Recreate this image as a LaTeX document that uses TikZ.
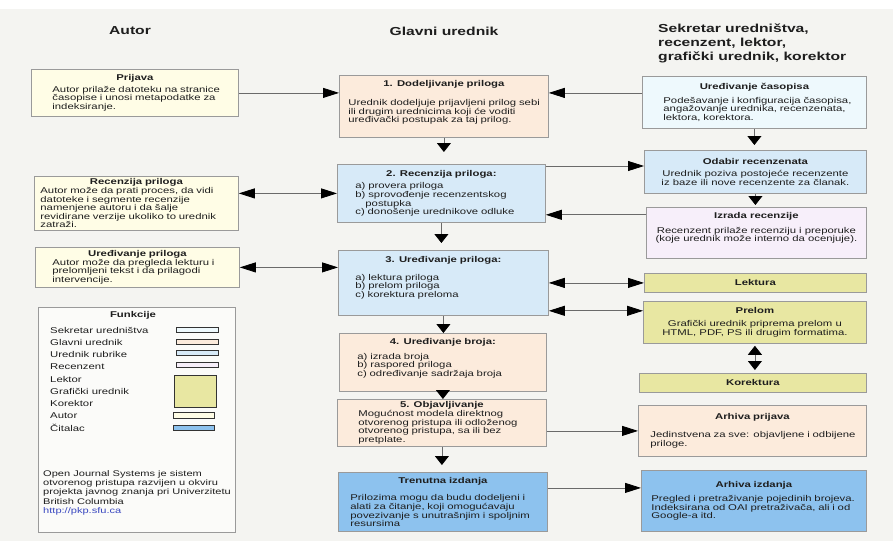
\documentclass[tikz,border=0pt]{standalone}
\usepackage{fontspec}
\setmainfont{Liberation Sans}[FakeStretch=1.35]
\usepackage{xcolor}
\usetikzlibrary{arrows.meta}

\definecolor{bgc}{HTML}{F4F4F1}
\definecolor{autorc}{HTML}{FFFDE6}
\definecolor{glavnic}{HTML}{FCEBDC}
\definecolor{sekrc}{HTML}{EEF9FD}
\definecolor{rubrikac}{HTML}{D7EAF8}
\definecolor{recc}{HTML}{F7EFFA}
\definecolor{lektc}{HTML}{E8E7A2}
\definecolor{citc}{HTML}{8DC2EE}
\definecolor{boxline}{HTML}{9A9A9A}
\definecolor{linec}{HTML}{6A6A6A}
\definecolor{txtc}{HTML}{1E1E1E}
\definecolor{linkc}{HTML}{3A48C0}

\hyphenpenalty=10000
\newcommand\bodyfont{\fontsize{8.4}{8.6}\selectfont}
\newcommand\headfont{\fontsize{11.6}{14}\selectfont\bfseries}
% title centred over the box, body indented by #3
\newcommand\cardtext[4][0pt]{{\centering\bfseries #2\par}\vspace{#1}%
    \hspace*{#3pt}\parbox[t]{\dimexpr\linewidth-#3pt\relax}{#4}}

\begin{document}
\begin{tikzpicture}[x=1pt,y=-1pt, text=txtc,
    card/.style={draw=boxline, line width=0.8pt, anchor=north west, inner sep=0pt, font=\bodyfont},
    ccard/.style={card, align=center},
    arr/.style={draw=linec, line width=0.8pt, -{Triangle[length=16pt,width=10pt,color=black]}},
    darr/.style={draw=linec, line width=0.8pt, {Triangle[length=16pt,width=10pt,color=black]}-{Triangle[length=16pt,width=10pt,color=black]}},
    varr/.style={draw=linec, line width=0.8pt, -{Triangle[length=9pt,width=14pt,color=black]}},
    dvarr/.style={draw=linec, line width=0.8pt, {Triangle[length=9pt,width=14pt,color=black]}-{Triangle[length=9pt,width=14pt,color=black]}},
    legtext/.style={anchor=west, inner sep=0pt, font=\bodyfont},
    swatch/.style={draw=black!80, line width=0.8pt}]

    \useasboundingbox[fill=white] (0,0) rectangle (893,541);
    \fill[bgc] (0,9) rectangle (893,541);

    % column headings
    \node[font=\headfont] (hautor) at (130,31) {Autor};
    \node[font=\headfont] (hglavni) at (444,31) {Glavni urednik};
    \node[font=\headfont, anchor=west, align=left, inner sep=0pt] (hsekr) at (658,43) {Sekretar uredništva,\\ recenzent, lektor,\\ grafički urednik, korektor};

    % Autor
    \node[card, fill=autorc, minimum width=207, minimum height=47, text width=203] (prijava) at (31,69)
        {\cardtext[3pt]{Prijava}{19}{Autor prilaže datoteku na stranice\\ časopise i unosi metapodatke za\\ indeksiranje.}};
    \node[card, fill=autorc, minimum width=204, minimum height=54, text width=200] (recprilog) at (34,176)
        {\cardtext{Recenzija priloga}{4}{Autor može da prati proces, da vidi\\ datoteke i segmente recenzije\\ namenjene autoru i da šalje\\ revidirane verzije ukoliko to urednik\\ zatraži.}};
    \node[card, fill=autorc, minimum width=204, minimum height=40, text width=200] (uredprilog) at (35,247)
        {\cardtext{Uređivanje priloga}{15}{Autor može da pregleda lekturu i\\ prelomljeni tekst i da prilagodi\\ intervencije.}};

    % Glavni urednik
    \node[card, fill=glavnic, minimum width=209, minimum height=62, text width=205] (dodela) at (339,75)
        {\cardtext[11pt]{1. Dodeljivanje priloga}{7}{Urednik dodeljuje prijavljeni prilog sebi\\ ili drugim urednicima koji će voditi\\ uređivački postupak za taj prilog.}\par\vspace*{8pt}};
    \node[card, fill=rubrikac, minimum width=208, minimum height=58, text width=204] (recenzija) at (337,164)
        {\cardtext[4pt]{2. Recenzija priloga:}{16}{a) provera priloga\\ b) sprovođenje recenzentskog\\ \hspace*{10pt}postupka\\ c) donošenje urednikove odluke}};
    \node[card, fill=rubrikac, minimum width=210, minimum height=65, text width=206] (uredjivanje) at (338,250)
        {\cardtext[9pt]{3. Uređivanje priloga:}{15}{a) lektura priloga\\ b) prelom priloga\\ c) korektura preloma}\par\vspace*{10pt}};
    \node[card, fill=glavnic, minimum width=207, minimum height=58, text width=203] (broj) at (339,333)
        {\cardtext[6pt]{4. Uređivanje broja:}{16}{a) izrada broja\\ b) raspored priloga\\ c) određivanje sadržaja broja}\par\vspace*{8pt}};
    \node[card, fill=glavnic, minimum width=209, minimum height=47, text width=205] (objava) at (337,399)
        {\cardtext{5. Objavljivanje}{19}{Mogućnost modela direktnog\\ otvorenog pristupa ili odloženog\\ otvorenog pristupa, sa ili bez\\ pretplate.}};
    \node[card, fill=citc, minimum width=209, minimum height=59, text width=205] (trenutna) at (338,472)
        {\cardtext[9pt]{Trenutna izdanja}{10}{Prilozima mogu da budu dodeljeni i\\ alati za čitanje, koji omogućavaju\\ povezivanje s unutrašnjim i spoljnim\\ resursima}};

    % Sekretar, recenzent, lektor ...
    \node[card, fill=sekrc, minimum width=224, minimum height=52, text width=220] (casopis) at (642,76)
        {\cardtext[5pt]{Uređivanje časopisa}{19}{Podešavanje i konfiguracija časopisa,\\ angažovanje urednika, recenzenata,\\ lektora, korektora.}};
    \node[ccard, fill=rubrikac, minimum width=222, minimum height=43] (odabir) at (644,150)
        {\textbf{Odabir recenzenata}\\[4pt] Urednik poziva postojeće recenzente\\ iz baze ili nove recenzente za članak.};
    \node[ccard, fill=recc, minimum width=220, minimum height=51] (izrada) at (646,207)
        {\textbf{Izrada recenzije}\\[6pt] Recenzent prilaže recenziju i preporuke\\ (koje urednik može interno da ocenjuje).\\[3pt]};
    \node[ccard, fill=lektc, minimum width=222, minimum height=19] (lektura) at (644,273) {\textbf{Lektura}};
    \node[ccard, fill=lektc, minimum width=223, minimum height=42] (prelom) at (643,301)
        {\textbf{Prelom}\\[4pt] Grafički urednik priprema prelom u\\ HTML, PDF, PS ili drugim formatima.};
    \node[ccard, fill=lektc, minimum width=227, minimum height=19] (korektura) at (639,373) {\textbf{Korektura}};
    \node[card, fill=glavnic, minimum width=228, minimum height=51, text width=224] (arhprijava) at (638,405)
        {\cardtext[9pt]{Arhiva prijava}{10}{Jedinstvena za sve: objavljene i odbijene\\ priloge.}};
    \node[card, fill=citc, minimum width=225, minimum height=61, text width=221] (arhizdanja) at (641,470)
        {\cardtext[6pt]{Arhiva izdanja}{8}{Pregled i pretraživanje pojedinih brojeva.\\ Indeksirana od OAI pretraživača, ali i od\\ Google-a itd.}};

    % legenda
    \node[card, fill=white!60!bgc, minimum width=197, minimum height=225] (legenda) at (38,307) {};
    \node[font=\bodyfont\bfseries, inner sep=0pt] (funkcije) at (133,315) {Funkcije};
    \foreach \lab [count=\i] in {Sekretar uredništva, Glavni urednik, Urednik rubrike, Recenzent, Lektor, Grafički urednik, Korektor, Autor, Čitalac}
        \node[legtext] (leg\i) at (50,317.75+12.25*\i) {\lab};
    \draw[swatch, fill=sekrc] (176,327) rectangle (218,332);
    \draw[swatch, fill=glavnic] (176,339) rectangle (218,344);
    \draw[swatch, fill=rubrikac] (176,350) rectangle (218,355);
    \draw[swatch, fill=recc] (176,362) rectangle (218,367);
    \draw[swatch, fill=lektc] (174,375) rectangle (216,407);
    \draw[swatch, fill=autorc] (173,412) rectangle (214,418);
    \draw[swatch, fill=citc] (173,425) rectangle (214,430);
    \node[anchor=north west, inner sep=0pt, align=left, font=\fontsize{8.2}{9.3}\selectfont] (ojs) at (43,470)
        {Open Journal Systems je sistem\\ otvorenog pristupa razvijen u okviru\\ projekta javnog znanja pri Univerzitetu\\ British Columbia\\ \textcolor{linkc}{http://pkp.sfu.ca}};

    % veze
    \draw[arr] (prijava.east) -- (dodela.west |- prijava.east);
    \draw[arr] (casopis.west |- prijava.east) -- (dodela.east |- prijava.east);
    \draw[arr] ([yshift=-2pt]recenzija.north east) -- ([yshift=-2pt]odabir.west |- recenzija.north east);
    \draw[arr] ([yshift=8pt]recenzija.south east -| izrada.west) -- ([yshift=8pt]recenzija.south east);
    \draw[darr] (recprilog.east |- recenzija.west) -- (recenzija.west);
    \draw[darr] (uredprilog.east) -- (uredjivanje.west |- uredprilog.east);
    \draw[darr] (uredjivanje.east |- lektura.west) -- (lektura.west);
    \draw[darr] ([yshift=5pt]uredjivanje.south east) -- ([yshift=5pt]uredjivanje.south east -| prelom.west);
    \draw[arr] (objava.east |- arhprijava.west) -- (arhprijava.west);
    \draw[arr] ([yshift=14pt]trenutna.east) -- ([yshift=14pt]trenutna.east -| arhizdanja.west);

    \draw[varr, shorten >=12pt] (dodela.south) -- (dodela.south |- recenzija.north);
    \draw[varr, shorten >=7pt] (recenzija.south) -- (recenzija.south |- uredjivanje.north);
    \draw[varr] (uredjivanje.south) -- (uredjivanje.south |- broj.north);
    \draw[varr] (broj.south) -- (broj.south |- objava.north);
    \draw[varr, shorten >=7pt] (objava.south) -- (objava.south |- trenutna.north);
    \draw[varr, shorten >=5pt] (casopis.south) -- (casopis.south |- odabir.north);
    \draw[varr, shorten >=2pt] (odabir.south) -- (odabir.south |- izrada.north);
    \draw[dvarr, shorten >=3pt, shorten <=2pt] (prelom.south) -- (prelom.south |- korektura.north);
\end{tikzpicture}
\end{document}
